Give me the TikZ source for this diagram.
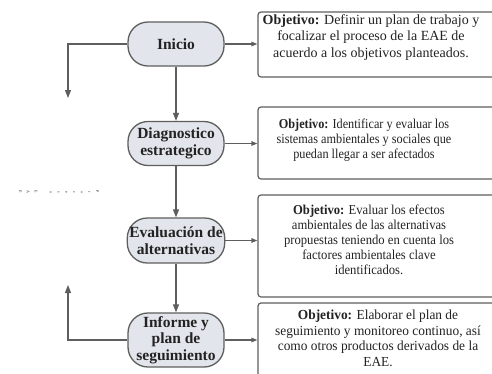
\documentclass[tikz,border=0pt]{standalone}
\usepackage{fontspec}
\setmainfont{Liberation Serif}
\usetikzlibrary{arrows.meta}
\definecolor{pillfill}{HTML}{E2E5EB}
\definecolor{linegray}{HTML}{5E5E5E}
\definecolor{txt}{HTML}{222222}
\tikzset{
  pill/.style={draw=linegray, line width=1.3pt, fill=pillfill, rounded corners=20pt,
    minimum width=96pt, inner sep=2pt, align=center, text=txt,
    font=\fontsize{15.5}{16.5}\selectfont\bfseries},
  objbox/.style={draw=linegray, line width=1.2pt, rounded corners=3pt},
  objtext/.style={align=center, text=txt, inner sep=0pt, font=\fontsize{14}{16.5}\selectfont},
  flow/.style={draw=linegray, line width=1.2pt, -{Triangle[length=8pt,width=6pt]}},
  side/.style={draw=linegray, line width=1.2pt, -{Triangle[length=6pt,width=4.5pt]}},
}
\begin{document}
\begin{tikzpicture}[x=1pt,y=-1pt]
\useasboundingbox (0,0) rectangle (492,373);
% pills
\node[pill, minimum height=44pt] (inicio) at (176,44) {Inicio};
\node[pill, minimum height=44pt] (diag) at (176,143.5) {Diagnostico\\estrategico};
\node[pill, minimum height=45pt] (eval) at (176,240.5) {Evaluación de\\alternativas};
\node[pill, minimum height=54pt] (inf) at (176,340) {Informe y\\plan de\\seguimiento};
% objective boxes
\node[objbox, minimum width=244pt, minimum height=65pt] (b1) at (380,44.5) {};
\node[objbox, minimum width=244pt, minimum height=72pt] (b2) at (380,143) {};
\node[objbox, minimum width=244pt, minimum height=102pt] (b3) at (380,246) {};
\node[objbox, minimum width=244pt, minimum height=90pt] (b4) at (380,348) {};
\node[objtext] (t1) at (371,37.5) {\textbf{Objetivo:} Definir un plan de trabajo y\\focalizar el proceso de la EAE de\\acuerdo a los objetivos planteados.};
\node[objtext, font=\fontsize{13.6}{15}\selectfont\addfontfeature{FakeStretch=0.9}] (t2) at (364,140) {\textbf{Objetivo:} Identificar y evaluar los\\sistemas ambientales y sociales que\\puedan llegar a ser afectados};
\node[objtext, font=\fontsize{13.6}{15}\selectfont\addfontfeature{FakeStretch=0.93}] (t3) at (369,240) {\textbf{Objetivo:} Evaluar los efectos\\ambientales de las alternativas\\propuestas teniendo en cuenta los\\factores ambientales clave\\identificados.};
\node[objtext, font=\fontsize{13.8}{15.5}\selectfont\addfontfeature{FakeStretch=0.97}] (t4) at (378,338.5) {\textbf{Objetivo:} Elaborar el plan de\\seguimiento y monitoreo continuo, así\\como otros productos derivados de la\\EAE.};
% vertical flow
\draw[flow] (inicio) -- (diag);
\draw[flow] (diag) -- (eval);
\draw[flow] (eval) -- (inf);
% side arrows
\draw[side] (inicio.east) -- (inicio.east -| b1.west);
\draw[side] (diag.east) -- (diag.east -| b2.west);
\draw[side] (eval.east) -- (eval.east -| b3.west);
\draw[side] (inf.east) -- (inf.east -| b4.west);
% left loops
\coordinate (l1) at (68,98);
\coordinate (l2) at (68,285);
\draw[flow] (inicio.west) -| (l1);
\draw[flow] (inf.west) -| (l2);
% tiny label
\node[rotate=-90, align=center, inner sep=0pt, text=txt, font=\fontsize{4}{7.7}\selectfont] (tiny) at (59,192) {P\\r\\o\\c\\e\\s\\o\\ \\E\\A\\E};
\end{tikzpicture}
\end{document}
